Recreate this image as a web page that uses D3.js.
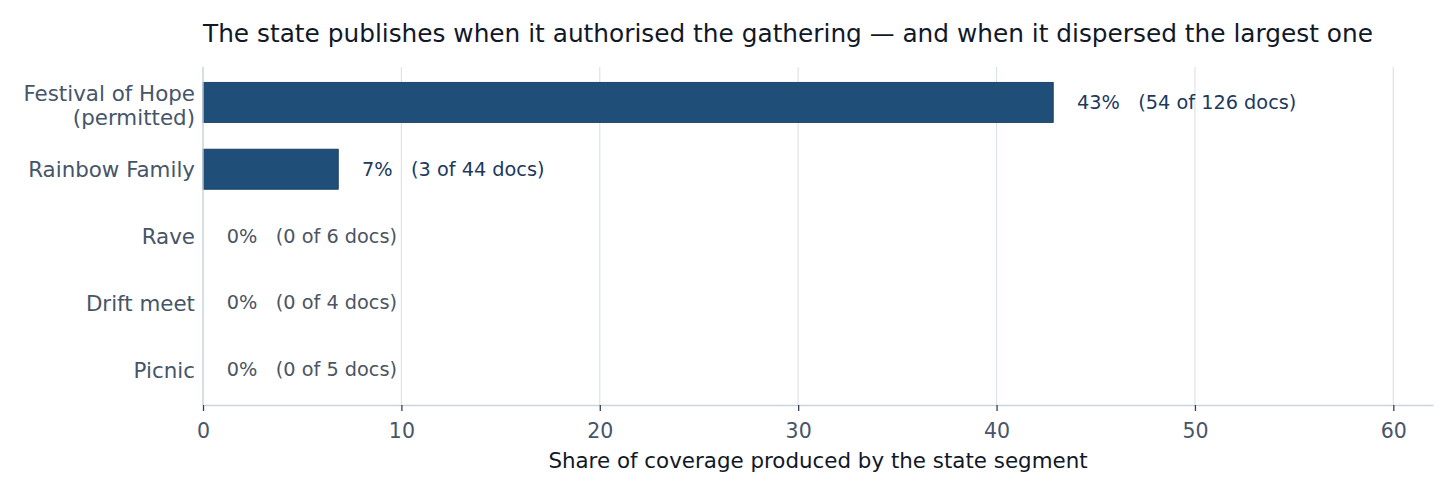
<!DOCTYPE html>
<html>
<head>
<meta charset="utf-8">
<script src="https://cdn.jsdelivr.net/npm/d3@7"></script>
<style>
  html, body { margin: 0; padding: 0; background: #fff; }
  svg { display: block; font-family: "DejaVu Sans", sans-serif; }
</style>
</head>
<body>
<script>
// data
const categories = ["Festival of Hope\n(permitted)", "Rainbow Family", "Rave", "Drift meet", "Picnic"];
const stateDocs = [54, 3, 0, 0, 0];
const totalDocs = [126, 44, 6, 4, 5];
const xTicks = [0, 10, 20, 30, 40, 50, 60];

const W = 1456, H = 496;
const margin = { top: 67, right: 23, bottom: 91, left: 203 };
const plotW = W - margin.left - margin.right;
const plotH = H - margin.top - margin.bottom;

const rows = categories.map((c, i) => ({
  name: c,
  docs: stateDocs[i],
  total: totalDocs[i],
  share: stateDocs[i] / totalDocs[i] * 100,
  i
}));

const x = d3.scaleLinear().domain([0, 62]).range([0, plotW]);
const y = d3.scaleLinear().domain([-0.53, 4.53]).range([0, plotH]);
const barH = y(0.6) - y(0);

const svg = d3.select("body").append("svg")
  .attr("width", W).attr("height", H);

svg.append("text")
  .attr("x", margin.left)
  .attr("y", 35)
  .attr("dominant-baseline", "middle")
  .attr("font-size", 24.8)
  .attr("fill", "#111827")
  .text("The state publishes when it authorised the gathering \u2014 and when it dispersed the largest one");

const g = svg.append("g").attr("transform", `translate(${margin.left},${margin.top})`);

// vertical grid
g.selectAll(".grid").data(xTicks).enter().append("line")
  .attr("x1", d => x(d)).attr("x2", d => x(d))
  .attr("y1", 0).attr("y2", plotH)
  .attr("stroke", "#dde3ea").attr("stroke-width", 1.2);

// bars
g.selectAll(".bar").data(rows).enter().append("rect")
  .attr("x", x(0))
  .attr("y", d => y(d.i) - barH / 2)
  .attr("width", d => x(d.share) - x(0))
  .attr("height", barH)
  .attr("fill", "#1f4e79")
  .attr("stroke", "#123456")
  .attr("stroke-width", d => d.share > 0 ? 0.8 : 0);

// value labels
g.selectAll(".lbl").data(rows).enter().append("text")
  .attr("x", d => x(d.share + 1.2))
  .attr("y", d => y(d.i) + 1)
  .attr("dominant-baseline", "middle")
  .attr("font-size", 19.3)
  .attr("fill", d => d.share > 0 ? "#1b3a5e" : "#4b5563")
  .attr("xml:space", "preserve")
  .text(d => `${Math.round(d.share)}%   (${d.docs} of ${d.total} docs)`);

// spines
g.append("line").attr("x1", 0).attr("x2", 0).attr("y1", 0).attr("y2", plotH)
  .attr("stroke", "#cbd5e1").attr("stroke-width", 1.3);

// x axis
const xAxis = g.append("g")
  .attr("transform", `translate(0,${plotH})`)
  .call(d3.axisBottom(x).tickValues(xTicks).tickSize(6).tickPadding(12).tickSizeOuter(0));
xAxis.select(".domain").attr("stroke", "#cbd5e1").attr("stroke-width", 1.3);
xAxis.selectAll(".tick line").attr("stroke", "#334155").attr("stroke-width", 1.3);
xAxis.selectAll(".tick text")
  .attr("font-size", 20.5).attr("fill", "#475569")
  .attr("font-family", "DejaVu Sans");

// y category labels
const yl = g.selectAll(".cat").data(rows).enter().append("text")
  .attr("x", -8)
  .attr("text-anchor", "end")
  .attr("font-size", 21.4)
  .attr("fill", "#475569");
yl.each(function (d) {
  const lines = d.name.split("\n");
  const t = d3.select(this);
  const lh = 24;
  const y0 = y(d.i) + 2 - (lines.length - 1) * lh / 2 + (lines.length > 1 ? 3 : 0);
  lines.forEach((ln, k) => {
    t.append("tspan")
      .attr("x", -8)
      .attr("y", y0 + k * lh)
      .attr("dominant-baseline", "middle")
      .text(ln);
  });
});

// x axis title
svg.append("text")
  .attr("x", margin.left + plotW / 2)
  .attr("y", 462)
  .attr("text-anchor", "middle")
  .attr("dominant-baseline", "middle")
  .attr("font-size", 21.4)
  .attr("fill", "#111827")
  .text("Share of coverage produced by the state segment");
</script>
</body>
</html>
